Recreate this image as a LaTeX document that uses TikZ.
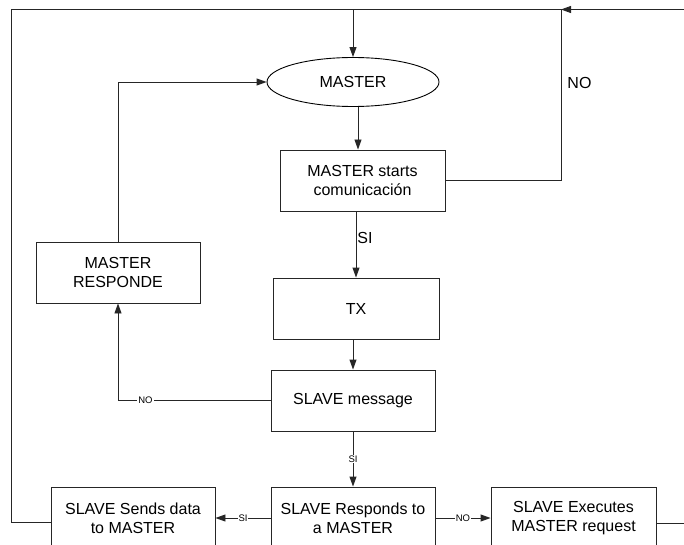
\documentclass[tikz,border=0pt]{standalone}
\usepackage{fontspec}
\setmainfont{Liberation Sans}
\usetikzlibrary{arrows.meta,shapes.geometric}
\begin{document}
\begin{tikzpicture}[x=1pt,y=-1pt,
  line width=0.9pt, draw=black!85,
  arr/.style={-{Triangle[length=10pt,width=7pt]}},
  stepbox/.style={draw=black!85, rectangle, minimum width=#1, minimum height=61pt,
    inner sep=0pt, align=center, font=\fontsize{16}{19}\selectfont},
  stepbox/.default=164pt,
  big/.style={font=\fontsize{16}{19}\selectfont},
  tag/.style={fill=white, inner sep=1pt, font=\fontsize{9.5}{10}\selectfont}]
  \useasboundingbox (0,0) rectangle (684,545);
  \clip (0,0) rectangle (684,545);

  % nodes
  \node[draw=black, ellipse, minimum width=172pt, minimum height=49pt, inner sep=0pt, big]
    (master) at (353,82) {MASTER};
  \node[stepbox=165pt] (start) at (362.5,180.5) {MASTER starts\\comunicación};
  \node[stepbox=166pt] (tx) at (356,308.5) {TX};
  \node[stepbox] (smsg) at (353,400.5) {SLAVE message};
  \node[stepbox] (mresp) at (118,272.5) {MASTER\\RESPONDE};
  \node[stepbox, minimum height=62pt] (sends) at (133,518) {SLAVE Sends data\\to MASTER};
  \node[stepbox, minimum height=62pt] (responds) at (353,518) {SLAVE Responds to\\a MASTER};
  \node[stepbox=165pt, minimum height=62pt] (execs) at (573.5,518) {SLAVE Executes\\MASTER request};

  % corners of the outer loops
  \coordinate (tl) at (11,9.5);
  \coordinate (tr) at (561,9.5);
  \coordinate (far) at (700,9.5);

  % main flow
  \draw[arr] ([xshift=5pt]master.south) -- ([xshift=5pt]master.south |- start.north);
  \draw[arr] (tx.north |- start.south) -- node[right, big, inner sep=1pt, yshift=6.5pt] {SI} (tx.north);
  \draw[arr] (smsg.north |- tx.south) -- (smsg.north);
  \draw[arr] (smsg.south) -- node[tag] {SI} (responds.north);
  \draw[arr] (responds.west) -- node[tag] {SI} (sends.east);
  \draw[arr] (responds.east) -- node[tag] {NO} (execs.west);

  % return to MASTER
  \draw[arr] (smsg.west) -| node[tag, pos=0.41] {NO} (mresp.south);
  \draw[arr] (mresp.north) |- (master.west);

  % outer loops
  \draw (start.east) -| node[right, big, pos=0.785, inner sep=6pt] {NO} (tr);
  \draw ([yshift=-4pt]sends.west) -| (tl) -- (tr);
  \draw[arr] ([yshift=-5pt]execs.east) -| (far) -- (tr);
  \draw[arr] (master.north |- tl) -- (master.north);
\end{tikzpicture}
\end{document}
